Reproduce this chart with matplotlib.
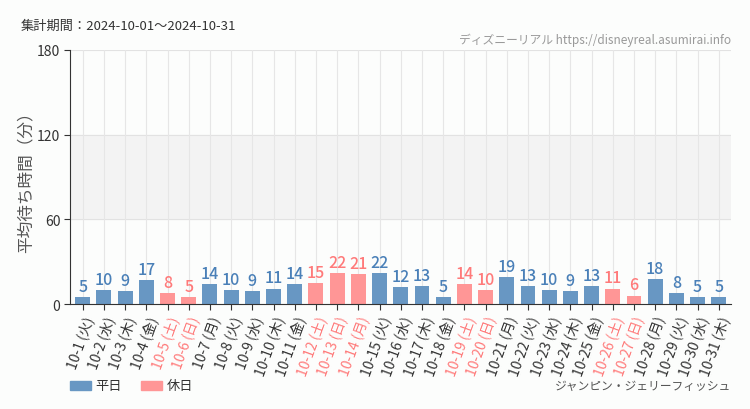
import matplotlib
matplotlib.use("Agg")
import matplotlib.pyplot as plt

plt.rcParams["font.family"] = ["Noto Sans CJK JP", "DejaVu Sans"]

days = list(range(1, 32))
weekdays = ["火", "水", "木", "金", "土", "日", "月", "火", "水", "木", "金", "土", "日", "月",
            "火", "水", "木", "金", "土", "日", "月", "火", "水", "木", "金", "土", "日", "月",
            "火", "水", "木"]
holidays = [5, 6, 12, 13, 14, 19, 20, 26, 27]
waits = [5, 10, 9, 17, 8, 5, 14, 10, 9, 11, 14, 15, 22, 21, 22, 12, 13, 5, 14, 10,
         19, 13, 10, 9, 13, 11, 6, 18, 8, 5, 5]
yticks = [0, 60, 120, 180]

BLUE = "#6897c3"
PINK = "#ff9696"
BLUE_TXT = "#4a80b8"
PINK_TXT = "#ff7a7a"
BG = "#fcfdfc"

fig = plt.figure(figsize=(7.5, 4.1), dpi=100)
fig.patch.set_facecolor(BG)
ax = fig.add_axes([0.0933, 0.256, 0.882, 0.620])
ax.set_facecolor(BG)

x = list(range(len(days)))
is_hol = [d in holidays for d in days]
colors = [PINK if h else BLUE for h in is_hol]

ax.axhspan(60, 120, color="#f3f3f3", zorder=0)
for yv in yticks[1:]:
    ax.axhline(yv, color="#e2e2e2", linewidth=0.8, zorder=0)
for xi in x:
    ax.axvline(xi, color="#e6e6e6", linewidth=0.8, zorder=0)

ax.bar(x, waits, width=0.7, color=colors, zorder=2)
for xi, v, h in zip(x, waits, is_hol):
    ax.text(xi, v + 1.5, str(v), ha="center", va="bottom", fontsize=11.5,
            fontweight="medium", color=PINK_TXT if h else BLUE_TXT, zorder=3)

ax.set_xlim(-0.6, len(days) - 0.4)
ax.set_ylim(0, 180)
ax.set_yticks(yticks)
ax.set_yticklabels([str(t) for t in yticks], fontsize=10, color="#333333")
ax.set_xticks(x)
labels = [f"10-{d} ({w})" for d, w in zip(days, weekdays)]
ax.set_xticklabels(labels, rotation=70, ha="right", rotation_mode="anchor", fontsize=10)
for lab, h in zip(ax.get_xticklabels(), is_hol):
    lab.set_color(PINK_TXT if h else "#333333")
ax.tick_params(axis="both", length=4, color="#333333", pad=3)
ax.set_ylabel("平均待ち時間（分）", fontsize=12, color="#555555", labelpad=2)

for s in ["top", "right"]:
    ax.spines[s].set_visible(False)
for s in ["left", "bottom"]:
    ax.spines[s].set_color("#333333")

fig.text(0.027, 0.935, "集計期間：2024-10-01〜2024-10-31", fontsize=9.5, color="#333333",
         va="center")
fig.text(0.975, 0.902, "ディズニーリアル https://disneyreal.asumirai.info", fontsize=8.5,
         color="#999999", ha="right", va="center")
fig.text(0.975, 0.058, "ジャンピン・ジェリーフィッシュ", fontsize=8.5, color="#555555",
         ha="right", va="center")

fig.patches.append(plt.Rectangle((0.093, 0.046), 0.028, 0.022, color=BLUE,
                                 transform=fig.transFigure, figure=fig))
fig.text(0.127, 0.057, "平日", fontsize=9.5, color="#333333", va="center")
fig.patches.append(plt.Rectangle((0.188, 0.046), 0.028, 0.022, color=PINK,
                                 transform=fig.transFigure, figure=fig))
fig.text(0.222, 0.057, "休日", fontsize=9.5, color="#333333", va="center")

fig.savefig("out.png", facecolor=fig.get_facecolor())
